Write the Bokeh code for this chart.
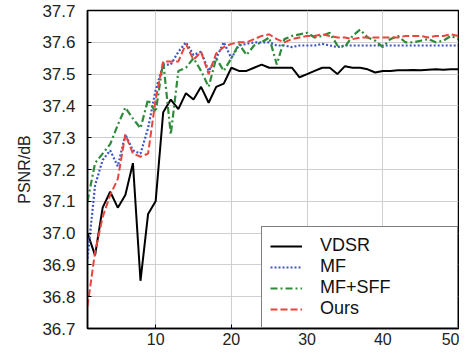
from bokeh.plotting import figure
from bokeh.models import Range1d, FixedTicker, Legend, LegendItem, PrintfTickFormatter
from bokeh.embed import file_html
from bokeh.resources import INLINE

epochs = list(range(1, 51))

vdsr = [37.00, 36.93, 37.08, 37.13, 37.08, 37.12, 37.22, 36.85, 37.06, 37.10,
        37.38, 37.42, 37.39, 37.44, 37.42, 37.46, 37.41, 37.46, 37.47, 37.52,
        37.51, 37.51, 37.52, 37.53, 37.52, 37.52, 37.52, 37.52, 37.49, 37.50,
        37.51, 37.52, 37.52, 37.50, 37.525, 37.52, 37.52, 37.515, 37.505, 37.51,
        37.51, 37.512, 37.512, 37.513, 37.512, 37.514, 37.515, 37.514, 37.515, 37.515]

mf = [36.92, 37.15, 37.23, 37.26, 37.21, 37.31, 37.26, 37.25, 37.33, 37.45,
      37.53, 37.53, 37.57, 37.60, 37.56, 37.57, 37.51, 37.55, 37.60, 37.55,
      37.59, 37.595, 37.60, 37.60, 37.60, 37.59, 37.59, 37.585, 37.59, 37.59,
      37.59, 37.595, 37.59, 37.585, 37.59, 37.59, 37.59, 37.59, 37.59, 37.59,
      37.59, 37.59, 37.59, 37.59, 37.59, 37.59, 37.59, 37.59, 37.59, 37.59]

mf_sff = [37.10, 37.22, 37.25, 37.28, 37.34, 37.395, 37.36, 37.33, 37.42, 37.38,
          37.54, 37.31, 37.51, 37.52, 37.55, 37.51, 37.46, 37.55, 37.51, 37.55,
          37.595, 37.56, 37.59, 37.60, 37.615, 37.53, 37.61, 37.62, 37.625, 37.63,
          37.615, 37.62, 37.63, 37.59, 37.585, 37.62, 37.64, 37.615, 37.605, 37.585,
          37.61, 37.62, 37.60, 37.60, 37.605, 37.61, 37.60, 37.605, 37.62, 37.61]

ours = [36.77, 36.94, 37.05, 37.12, 37.17, 37.31, 37.25, 37.24, 37.25, 37.42,
        37.54, 37.54, 37.54, 37.595, 37.545, 37.57, 37.50, 37.565, 37.585, 37.595,
        37.60, 37.60, 37.61, 37.62, 37.625, 37.61, 37.60, 37.61, 37.615, 37.62,
        37.62, 37.625, 37.62, 37.615, 37.615, 37.61, 37.615, 37.615, 37.615, 37.615,
        37.615, 37.615, 37.62, 37.62, 37.62, 37.615, 37.62, 37.62, 37.625, 37.62]

series_names = ["VDSR", "MF", "MF+SFF", "Ours"]
x_ticks = [10, 20, 30, 40, 50]
y_ticks = [36.7, 36.8, 36.9, 37.0, 37.1, 37.2, 37.3, 37.4, 37.5, 37.6, 37.7]

p = figure(width=459, height=349, output_backend="svg", toolbar_location=None,
           x_range=Range1d(1, 50), y_range=Range1d(36.7, 37.7),
           min_border_left=87, min_border_right=1, min_border_top=10, min_border_bottom=21)

p.background_fill_color = "white"
p.border_fill_color = "white"
p.outline_line_color = "black"
p.outline_line_width = 1.5

p.xaxis.ticker = FixedTicker(ticks=x_ticks)
p.yaxis.ticker = FixedTicker(ticks=y_ticks)
p.yaxis.formatter = PrintfTickFormatter(format="%.1f")
for ax in (p.xaxis, p.yaxis):
    ax.major_tick_in = 4
    ax.major_tick_out = 0
    ax.minor_tick_line_color = None
    ax.axis_line_color = "black"
    ax.axis_line_width = 1.5
    ax.major_tick_line_color = "black"
    ax.major_label_text_font = "Liberation Sans"
    ax.major_label_text_color = "#222222"
p.yaxis.major_label_text_font_size = "17px"
p.xaxis.major_label_text_font_size = "16px"
p.yaxis.major_label_standoff = 12
p.xaxis.major_label_standoff = 4
p.yaxis.axis_label = "PSNR/dB"
p.yaxis.axis_label_text_font = "Liberation Sans"
p.yaxis.axis_label_text_font_size = "16px"
p.yaxis.axis_label_text_font_style = "normal"
p.yaxis.axis_label_text_color = "#222222"
p.yaxis.axis_label_standoff = 6

p.xgrid.ticker = FixedTicker(ticks=x_ticks)
p.grid.grid_line_color = "#cfcfcf"
p.grid.grid_line_width = 1

r1 = p.line(epochs, vdsr, line_color="black", line_width=2)
r2 = p.line(epochs, mf, line_color="#3a55c8", line_width=2.2, line_dash="2 2")
r3 = p.line(epochs, mf_sff, line_color="#2e8b3a", line_width=2.2, line_dash="7 3 2 3")
r4 = p.line(epochs, ours, line_color="#e8453c", line_width=2, line_dash="7 3")

legend = Legend(items=[LegendItem(label=series_names[0], renderers=[r1]),
                       LegendItem(label=series_names[1], renderers=[r2]),
                       LegendItem(label=series_names[2], renderers=[r3]),
                       LegendItem(label=series_names[3], renderers=[r4])],
                location="bottom_right", margin=0, padding=8, spacing=0,
                glyph_width=32, glyph_height=18, label_height=18, label_width=129,
                label_standoff=18, label_text_font="Liberation Sans",
                label_text_font_size="18px", label_text_color="#111111",
                border_line_color="black", border_line_width=1.5,
                background_fill_color="white", background_fill_alpha=1.0)
p.add_layout(legend)

open("out.html", "w").write(file_html(p, INLINE))
